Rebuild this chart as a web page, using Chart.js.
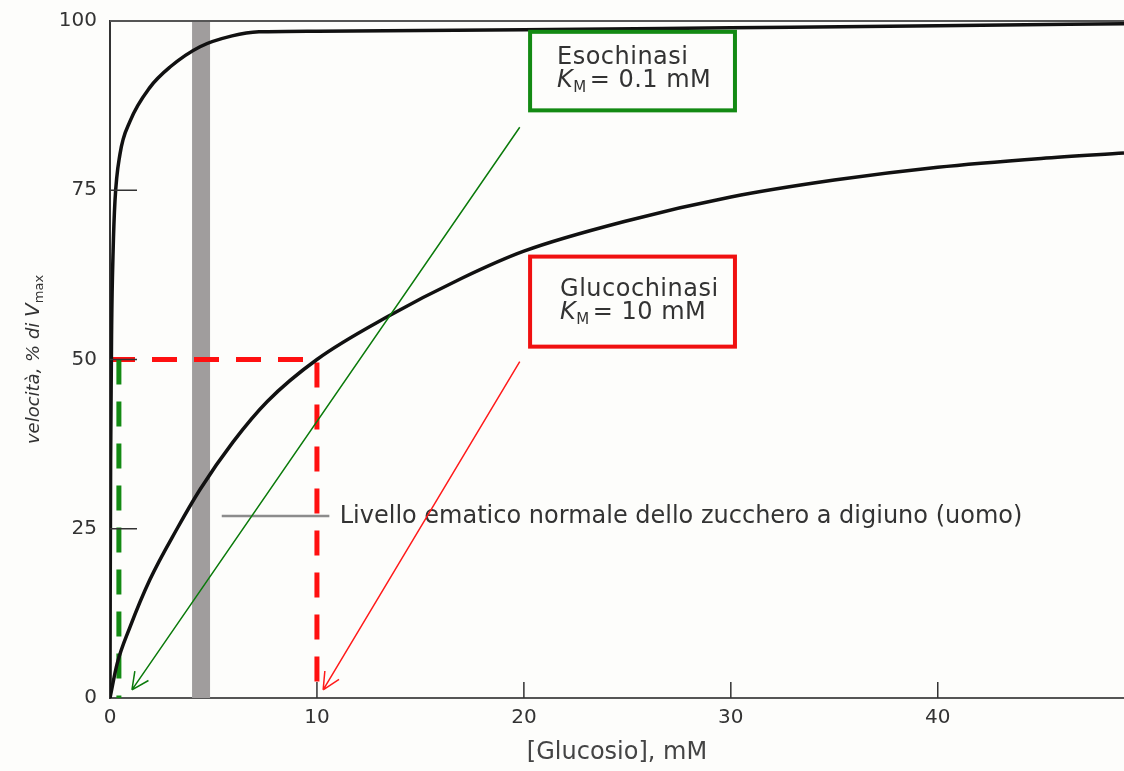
<!DOCTYPE html>
<html>
<head>
<meta charset="utf-8">
<script src="https://cdn.jsdelivr.net/npm/chart.js@4/dist/chart.umd.min.js"></script>
<style>
  html, body { margin: 0; padding: 0; background: #fdfdfb; }
  #wrap { width: 1124px; height: 771px; }
</style>
</head>
<body>
<div id="wrap"><canvas id="chart" width="1124" height="771"></canvas></div>
<script>
// Values
const xTicks = [0, 10, 20, 30, 40];
const yTicks = [0, 25, 50, 75, 100];

// Esochinasi (Km 0.1 mM)
const hexoX = [0, 0.01, 0.03, 0.08, 0.15, 0.24, 0.48, 0.97, 1.93, 2.9, 4.35, 5.9, 7.2, 10, 20, 30, 40, 49];
const hexoY = [0, 15, 35, 55, 66, 73.4, 80.3, 85.2, 90.2, 93.2, 96.2, 97.8, 98.4, 98.5, 98.7, 99, 99.3, 99.6];

// Glucochinasi (Km 10 mM)
const glucoX = [0, 0.34, 0.97, 1.93, 3.24, 4.35, 5.94, 7.6, 10, 13.4, 17, 20, 25, 30, 35, 40, 45, 49];
const glucoY = [0, 5, 10.5, 17.5, 25, 30.8, 37.8, 43.8, 50, 56.3, 62, 66, 70.5, 74, 76.5, 78.4, 79.7, 80.5];

// fasting blood sugar band and Km markers
const bandX = 4.4;
const hexoKmX = 0.43;
const glucoKmX = 10;
const halfV = 50;

const FONT = '"DejaVu Sans", "Liberation Sans", sans-serif';
const toPts = (xs, ys) => xs.map((x, i) => ({ x: x, y: ys[i] }));

function kmLabel(ctx, x, y, rest) {
  // "K" italic + "M" subscript + rest
  ctx.font = 'italic 24px ' + FONT;
  ctx.fillText('K', x, y);
  let w = ctx.measureText('K').width;
  ctx.font = '15px ' + FONT;
  ctx.fillText('M', x + w, y + 5);
  w += ctx.measureText('M').width;
  ctx.font = '24px ' + FONT;
  ctx.fillText(rest, x + w + 3, y);
}

function arrow(ctx, x1, y1, x2, y2, color) {
  ctx.save();
  ctx.strokeStyle = color;
  ctx.lineWidth = 1.5;
  ctx.beginPath();
  ctx.moveTo(x1, y1);
  ctx.lineTo(x2, y2);
  const a = Math.atan2(y2 - y1, x2 - x1);
  const L = 19;
  ctx.moveTo(x2, y2);
  ctx.lineTo(x2 - L * Math.cos(a - 0.45), y2 - L * Math.sin(a - 0.45));
  ctx.moveTo(x2, y2);
  ctx.lineTo(x2 - L * Math.cos(a + 0.45), y2 - L * Math.sin(a + 0.45));
  ctx.stroke();
  ctx.restore();
}

const overlay = {
  id: 'overlay',
  afterDatasetsDraw(chart) {
    const ctx = chart.ctx;
    const xs = chart.scales.x, ys = chart.scales.y;
    const px = v => xs.getPixelForValue(v);
    const py = v => ys.getPixelForValue(v);
    const area = chart.chartArea;
    ctx.save();

    // top frame line
    ctx.strokeStyle = '#555';
    ctx.lineWidth = 2;
    ctx.beginPath();
    ctx.moveTo(area.left, area.top);
    ctx.lineTo(area.right, area.top);
    ctx.stroke();

    // inward ticks
    ctx.strokeStyle = '#333';
    ctx.lineWidth = 1.5;
    ctx.beginPath();
    [25, 50, 75].forEach(v => { ctx.moveTo(area.left, py(v)); ctx.lineTo(area.left + 27, py(v)); });
    xTicks.slice(1).forEach(v => { ctx.moveTo(px(v), area.bottom); ctx.lineTo(px(v), area.bottom - 16); });
    ctx.stroke();

    // label for blood sugar level
    ctx.strokeStyle = '#8c8c8c';
    ctx.lineWidth = 2.5;
    ctx.beginPath();
    ctx.moveTo(px(5.4), py(26.9));
    ctx.lineTo(px(10.6), py(26.9));
    ctx.stroke();
    ctx.fillStyle = '#333';
    ctx.font = '24px ' + FONT;
    ctx.textBaseline = 'middle';
    ctx.fillText('Livello ematico normale dello zucchero a digiuno (uomo)', px(11.1), py(26.9) + 1);

    // boxes
    ctx.textBaseline = 'alphabetic';
    ctx.lineWidth = 4;
    ctx.fillStyle = '#fdfdfb';
    const bx = px(20.3), bw = px(30.2) - px(20.3);
    const gTop = py(98.4), rTop = py(65.2);
    ctx.strokeStyle = '#138a13';
    ctx.fillRect(bx, gTop, bw, py(86.8) - gTop);
    ctx.strokeRect(bx, gTop, bw, py(86.8) - gTop);
    ctx.strokeStyle = '#f01010';
    ctx.fillRect(bx, rTop, bw, py(51.9) - rTop);
    ctx.strokeRect(bx, rTop, bw, py(51.9) - rTop);

    ctx.fillStyle = '#333';
    ctx.letterSpacing = '0.5px';
    ctx.font = '24px ' + FONT;
    ctx.fillText('Esochinasi', px(21.6), gTop + 32);
    kmLabel(ctx, px(21.6), gTop + 55, '= 0.1 mM');
    ctx.font = '24px ' + FONT;
    ctx.fillText('Glucochinasi', px(21.75), rTop + 39);
    kmLabel(ctx, px(21.75), rTop + 62, '= 10 mM');
    ctx.letterSpacing = '0px';

    // arrows
    arrow(ctx, px(19.8), py(84.3), px(1.06), py(1.2), '#0a7a0a');
    arrow(ctx, px(19.8), py(49.7), px(10.3), py(1.2), '#ff1a1a');

    // y axis title
    ctx.save();
    ctx.translate(34, py(50));
    ctx.rotate(-Math.PI / 2);
    ctx.fillStyle = '#333';
    ctx.textBaseline = 'middle';
    const t1 = 'velocità, % di ';
    ctx.font = 'italic 18px ' + FONT;
    const w1 = ctx.measureText(t1).width;
    ctx.font = 'italic 20px ' + FONT;
    const w2 = ctx.measureText('V').width;
    ctx.font = '13px ' + FONT;
    const w3 = ctx.measureText('max').width;
    const x0 = -(w1 + w2 + w3) / 2;
    ctx.font = 'italic 18px ' + FONT;
    ctx.fillText(t1, x0, 0);
    ctx.font = 'italic 20px ' + FONT;
    ctx.fillText('V', x0 + w1, 0);
    ctx.font = '13px ' + FONT;
    ctx.fillText('max', x0 + w1 + w2, 6);
    ctx.restore();

    ctx.restore();
  }
};

const dashed = { borderDash: [25, 17], borderWidth: 5, pointRadius: 0, fill: false, tension: 0 };

new Chart(document.getElementById('chart'), {
  type: 'line',
  data: {
    datasets: [
      { label: 'Esochinasi', data: toPts(hexoX, hexoY), borderColor: '#111', borderWidth: 3.5,
        pointRadius: 0, cubicInterpolationMode: 'monotone', order: 1 },
      { label: 'Glucochinasi', data: toPts(glucoX, glucoY), borderColor: '#111', borderWidth: 3.5,
        pointRadius: 0, cubicInterpolationMode: 'monotone', order: 1 },
      Object.assign({ label: 'Km esochinasi', data: [{ x: hexoKmX, y: halfV }, { x: hexoKmX, y: 0 }],
        borderColor: '#138a13', order: 2 }, dashed),
      Object.assign({ label: 'Vmax/2', data: [{ x: 0, y: halfV }, { x: glucoKmX, y: halfV }, { x: glucoKmX, y: 0 }],
        borderColor: '#ff1010', order: 2 }, dashed),
      { label: 'glicemia', data: [{ x: bandX, y: 0 }, { x: bandX, y: 100 }], borderColor: '#a09d9d',
        borderWidth: 18, borderCapStyle: 'butt', pointRadius: 0, order: 5 }
    ]
  },
  options: {
    responsive: false,
    animation: false,
    layout: { autoPadding: false, padding: { top: 21, right: 0, left: 0, bottom: 0 } },
    plugins: { legend: { display: false }, tooltip: { enabled: false } },
    scales: {
      x: {
        type: 'linear', min: 0, max: 49,
        afterBuildTicks: s => { s.ticks = xTicks.map(v => ({ value: v })); },
        afterFit: s => { s.height = 73; s.paddingLeft = 0; s.paddingRight = 0; },
        grid: { display: false, drawTicks: false },
        border: { display: true, color: '#555', width: 2 },
        ticks: { color: '#333', padding: 8, font: { size: 20, family: FONT } },
        title: { display: true, text: '[Glucosio], mM', color: '#444', padding: { top: 0 },
          font: { size: 24, family: FONT } }
      },
      y: {
        min: 0, max: 100,
        afterBuildTicks: s => { s.ticks = yTicks.map(v => ({ value: v })); },
        afterFit: s => { s.width = 110; s.paddingTop = 0; s.paddingBottom = 0; },
        grid: { display: false, drawTicks: false },
        border: { display: true, color: '#333', width: 2 },
        ticks: { color: '#333', padding: 13, font: { size: 20, family: FONT } }
      }
    }
  },
  plugins: [overlay]
});
</script>
</body>
</html>
